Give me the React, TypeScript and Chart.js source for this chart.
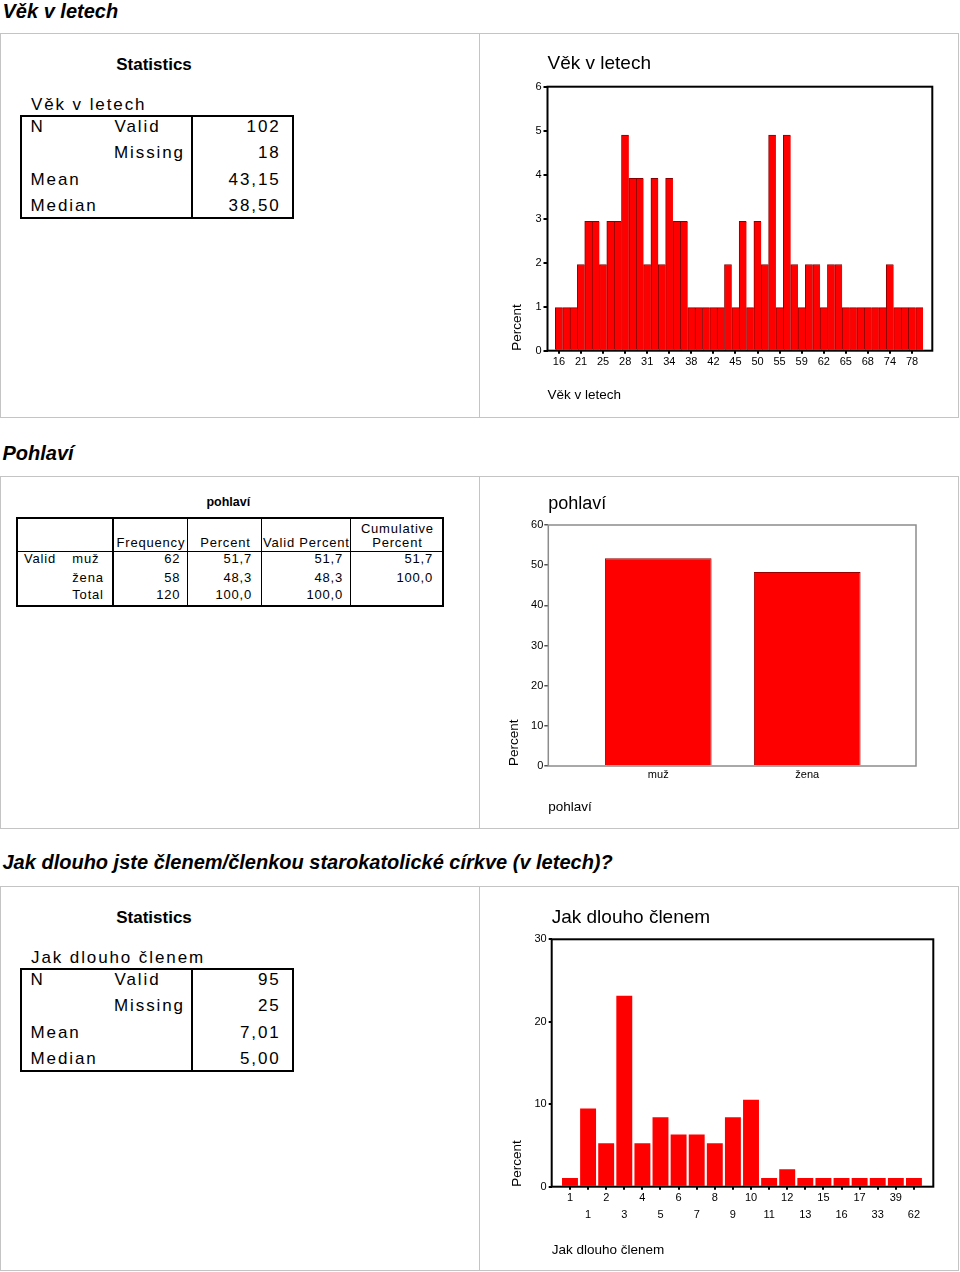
import React, { useEffect, useRef } from "react";
import { Chart, registerables } from "chart.js";

Chart.register(...registerables);

const FONT = "'Liberation Sans', Arial, Helvetica, sans-serif";
Chart.defaults.font.family = FONT;
Chart.defaults.color = "#000";

// ---------------- data ----------------
// Věk v letech (histogram, percent of 102 valid)
const ageLabels = [
  "16", "18", "19", "21", "23", "24", "25", "26", "27", "28",
  "29", "30", "31", "32", "33", "34", "35", "36", "38", "39",
  "40", "42", "43", "44", "45", "47", "48", "50", "52", "53",
  "55", "56", "57", "59", "60", "61", "62", "63", "64", "65",
  "66", "67", "68", "70", "72", "74", "75", "77", "78", "79",
];
const agePercent = [
  0.98, 0.98, 0.98, 1.96, 2.94, 2.94, 1.96, 2.94, 2.94, 4.9,
  3.92, 3.92, 1.96, 3.92, 1.96, 3.92, 2.94, 2.94, 0.98, 0.98,
  0.98, 0.98, 0.98, 1.96, 0.98, 2.94, 0.98, 2.94, 1.96, 4.9,
  0.98, 4.9, 1.96, 0.98, 1.96, 1.96, 0.98, 1.96, 1.96, 0.98,
  0.98, 0.98, 0.98, 0.98, 0.98, 1.96, 0.98, 0.98, 0.98, 0.98,
];
const ageYTicks = [0, 1, 2, 3, 4, 5, 6];

// pohlaví
const genderLabels = ["muž", "žena"];
const genderPercent = [51.7, 48.3];
const genderYTicks = [0, 10, 20, 30, 40, 50, 60];

// Jak dlouho členem (percent of 95 valid)
const memberLabels = [
  "1", "1", "2", "3", "4", "5", "6", "7", "8", "9",
  "10", "11", "12", "13", "15", "16", "17", "33", "39", "62",
];
const memberPercent = [
  1.05, 9.47, 5.26, 23.16, 5.26, 8.42, 6.32, 6.32, 5.26, 8.42,
  10.53, 1.05, 2.11, 1.05, 1.05, 1.05, 1.05, 1.05, 1.05, 1.05,
];
const memberYTicks = [0, 10, 20, 30];

// tables
const statRowLabels = ["Valid", "Missing", "Mean", "Median"];
const ageStatValues = ["102", "18", "43,15", "38,50"];
const memberStatValues = ["95", "25", "7,01", "5,00"];

const genderHeaders = ["Frequency", "Percent", "Valid Percent", "Cumulative Percent"];
const genderRowLabels = ["muž", "žena", "Total"];
const genderFreq = ["62", "58", "120"];
const genderPct = ["51,7", "48,3", "100,0"];
const genderValidPct = ["51,7", "48,3", "100,0"];
const genderCumPct = ["51,7", "100,0", ""];

// ---------------- helpers ----------------
const framePlugin = {
  id: "frame",
  afterDatasetsDraw(chart: any, _args: any, opts: any) {
    const { ctx, chartArea: a } = chart;
    ctx.save();
    ctx.strokeStyle = opts.color || "#000";
    ctx.lineWidth = opts.width || 1;
    ctx.strokeRect(a.left, a.top, a.right - a.left, a.bottom - a.top);
    ctx.restore();
  },
};

function ChartBox({ left, top, width, height, make }: any) {
  const ref = useRef<HTMLCanvasElement>(null);
  useEffect(() => {
    const chart = new Chart(ref.current as HTMLCanvasElement, make());
    return () => chart.destroy();
  }, []);
  return (
    <div style={{ position: "absolute", left, top, width, height }}>
      <canvas ref={ref} width={width} height={height} style={{ display: "block", width, height }} />
    </div>
  );
}

function Txt({ x, y, text, size, bold, italic, ls = 0, align = "left" }: any) {
  const top = y - 0.8465 * size;
  const W = 700;
  let left = x;
  let textAlign: any = "left";
  if (align === "right") {
    left = x + ls - W;
    textAlign = "right";
  } else if (align === "center") {
    left = x - W / 2 + ls / 2;
    textAlign = "center";
  }
  return (
    <div
      style={{
        position: "absolute",
        left,
        top,
        width: align === "left" ? undefined : W,
        whiteSpace: "nowrap",
        fontSize: size,
        lineHeight: `${size}px`,
        fontWeight: bold ? "bold" : "normal",
        fontStyle: italic ? "italic" : "normal",
        letterSpacing: ls,
        textAlign,
        fontFamily: FONT,
        color: "#000",
      }}
    >
      {text}
    </div>
  );
}

function Rect({ x, y, w, h, bg = "#000" }: any) {
  return <div style={{ position: "absolute", left: x, top: y, width: w, height: h, background: bg }} />;
}

function Panel({ top, height }: any) {
  return (
    <>
      <div
        style={{
          position: "absolute",
          left: 0,
          top,
          width: 959,
          height,
          border: "1px solid #c4c4c4",
          boxSizing: "border-box",
        }}
      />
      <Rect x={479} y={top} w={1} h={height} bg="#c4c4c4" />
    </>
  );
}

function StatsTable({ dy, title, values }: any) {
  const rows = [132.5, 158.8, 185.1, 211.4];
  const ls = 1.9;
  return (
    <>
      <Txt x={154} y={70.7 + dy} text="Statistics" size={17} bold align="center" />
      <Txt x={31} y={110 + dy} text={title} size={17} ls={ls} />
      <div
        style={{
          position: "absolute",
          left: 20,
          top: 115 + dy,
          width: 274,
          height: 104,
          border: "2px solid #000",
          boxSizing: "border-box",
        }}
      />
      <Rect x={191.3} y={115 + dy} w={2} h={104} />
      <Txt x={30.5} y={rows[0] + dy} text="N" size={17} ls={ls} />
      <Txt x={114.5} y={rows[0] + dy} text={statRowLabels[0]} size={17} ls={ls} />
      <Txt x={114} y={rows[1] + dy} text={statRowLabels[1]} size={17} ls={ls} />
      <Txt x={30.5} y={rows[2] + dy} text={statRowLabels[2]} size={17} ls={ls} />
      <Txt x={30.5} y={rows[3] + dy} text={statRowLabels[3]} size={17} ls={ls} />
      {values.map((v: string, i: number) => (
        <Txt key={i} x={278.7} y={rows[i] + dy} text={v} size={17} ls={ls} align="right" />
      ))}
    </>
  );
}

function GenderTable() {
  const ls = 0.8;
  const s = 13;
  const rows = [563.4, 581.6, 599.4];
  const colRight = [179.5, 251.2, 342.2, 432.2];
  const cols = [genderFreq, genderPct, genderValidPct, genderCumPct];
  return (
    <>
      <Txt x={228.3} y={506.7} text="pohlaví" size={12.5} bold align="center" />
      <div
        style={{
          position: "absolute",
          left: 16,
          top: 517,
          width: 428,
          height: 90,
          border: "2px solid #000",
          boxSizing: "border-box",
        }}
      />
      <Rect x={112.3} y={517} w={2} h={90} />
      <Rect x={187.2} y={517} w={1} h={90} />
      <Rect x={261.2} y={517} w={1} h={90} />
      <Rect x={350.2} y={517} w={1} h={90} />
      <Rect x={16} y={550.5} w={428} h={1.5} />
      <Txt x={150.5} y={546.7} text={genderHeaders[0]} size={s} ls={ls} align="center" />
      <Txt x={225} y={546.7} text={genderHeaders[1]} size={s} ls={ls} align="center" />
      <Txt x={306} y={546.7} text={genderHeaders[2]} size={s} ls={ls} align="center" />
      <Txt x={397} y={533.3} text="Cumulative" size={s} ls={ls} align="center" />
      <Txt x={397} y={546.7} text="Percent" size={s} ls={ls} align="center" />
      <Txt x={24} y={rows[0]} text="Valid" size={s} ls={ls} />
      {genderRowLabels.map((l, i) => (
        <Txt key={"l" + i} x={72.3} y={rows[i]} text={l} size={s} ls={ls} />
      ))}
      {cols.map((col, c) =>
        col.map((v, i) => (
          <Txt key={c + "-" + i} x={colRight[c]} y={rows[i]} text={v} size={s} ls={ls} align="right" />
        ))
      )}
    </>
  );
}

const axisTitleFont = { size: 13.5, family: FONT };
const tickFont = { size: 11, family: FONT };

function makeAgeChart() {
  return {
    type: "bar",
    data: {
      datasets: [
        {
          data: agePercent.map((v, i) => ({ x: i, y: v })),
          backgroundColor: "#ff0000",
          borderColor: "#8a0000",
          borderWidth: { left: 1, top: 1, right: 0, bottom: 0 },
          borderSkipped: false,
          barPercentage: 1,
          categoryPercentage: 1,
        },
      ],
    },
    options: {
      animation: false,
      responsive: false,
      maintainAspectRatio: false,
      layout: { padding: { left: 0, right: 24.7, top: 0, bottom: 0 } },
      plugins: {
        legend: { display: false },
        tooltip: { enabled: false },
        title: {
          display: true,
          text: "Věk v letech",
          align: "start",
          fullSize: false,
          color: "#000",
          font: { size: 19, weight: "normal", family: FONT },
          padding: { top: 18.7, bottom: 11.2 },
        },
        frame: { color: "#000", width: 2 },
      },
      scales: {
        x: {
          type: "linear",
          min: -1.56,
          max: 50.76,
          offset: false,
          afterBuildTicks: (s: any) => {
            s.ticks = ageLabels.map((_, i) => ({ value: i })).filter((t) => t.value % 3 === 0);
          },
          afterFit: (s: any) => {
            s.height = 66.3;
          },
          ticks: {
            autoSkip: false,
            maxRotation: 0,
            padding: 1.3,
            font: tickFont,
            color: "#000",
            callback: (v: any) => ageLabels[v] ?? "",
          },
          grid: { drawOnChartArea: false, drawTicks: true, tickLength: 3, lineWidth: 2, color: "#000", offset: false },
          border: { display: false },
          title: {
            display: true,
            text: "Věk v letech",
            align: "start",
            color: "#000",
            font: axisTitleFont,
            padding: { top: 0, bottom: 13.8 },
          },
        },
        y: {
          min: 0,
          max: 6,
          afterBuildTicks: (s: any) => {
            s.ticks = ageYTicks.map((v) => ({ value: v }));
          },
          afterFit: (s: any) => {
            s.width = 66.5;
          },
          ticks: { padding: 2, font: tickFont, color: "#000" },
          grid: { drawOnChartArea: false, drawTicks: true, tickLength: 4, lineWidth: 2, color: "#000" },
          border: { display: false },
          title: {
            display: true,
            text: "Percent",
            align: "start",
            color: "#000",
            font: axisTitleFont,
            padding: { top: 28.4, bottom: 0 },
          },
        },
      },
    },
    plugins: [framePlugin],
  } as any;
}

function makeGenderChart() {
  return {
    type: "bar",
    data: {
      datasets: [
        {
          data: genderPercent.map((v, i) => ({ x: i, y: v })),
          backgroundColor: "#ff0000",
          borderColor: "#9a0000",
          borderWidth: 1,
          barPercentage: 0.716,
          categoryPercentage: 1,
        },
      ],
    },
    options: {
      animation: false,
      responsive: false,
      maintainAspectRatio: false,
      layout: { padding: { left: 0, right: 41, top: 0, bottom: 0 } },
      plugins: {
        legend: { display: false },
        tooltip: { enabled: false },
        title: {
          display: true,
          text: "pohlaví",
          align: "start",
          fullSize: false,
          color: "#000",
          font: { size: 18, weight: "normal", family: FONT },
          padding: { top: 16.6, bottom: 9.8 },
        },
        frame: { color: "#8c8c8c", width: 1.5 },
      },
      scales: {
        x: {
          type: "linear",
          min: -0.738,
          max: 1.73,
          offset: false,
          afterBuildTicks: (s: any) => {
            s.ticks = genderLabels.map((_, i) => ({ value: i }));
          },
          afterFit: (s: any) => {
            s.height = 62;
          },
          ticks: {
            autoSkip: false,
            maxRotation: 0,
            padding: 2.5,
            font: tickFont,
            color: "#000",
            callback: (v: any) => genderLabels[v] ?? "",
          },
          grid: { display: false, drawTicks: false, offset: false },
          border: { display: false },
          title: {
            display: true,
            text: "pohlaví",
            align: "start",
            color: "#000",
            font: axisTitleFont,
            padding: { top: 0, bottom: 12.4 },
          },
        },
        y: {
          min: 0,
          max: 60,
          afterBuildTicks: (s: any) => {
            s.ticks = genderYTicks.map((v) => ({ value: v }));
          },
          afterFit: (s: any) => {
            s.width = 67.3;
          },
          ticks: { padding: 1, font: tickFont, color: "#000" },
          grid: { drawOnChartArea: false, drawTicks: true, tickLength: 4, lineWidth: 1.5, color: "#555" },
          border: { display: false },
          title: {
            display: true,
            text: "Percent",
            align: "start",
            color: "#000",
            font: axisTitleFont,
            padding: { top: 24.7, bottom: 0 },
          },
        },
      },
    },
    plugins: [framePlugin],
  } as any;
}

function makeMemberChart() {
  return {
    type: "bar",
    data: {
      datasets: [
        {
          data: memberPercent.map((v, i) => ({ x: i, y: v })),
          backgroundColor: "#ff0000",
          borderWidth: 0,
          barPercentage: 0.88,
          categoryPercentage: 1,
        },
      ],
    },
    options: {
      animation: false,
      responsive: false,
      maintainAspectRatio: false,
      layout: { padding: { left: 0, right: 23.7, top: 0, bottom: 0 } },
      plugins: {
        legend: { display: false },
        tooltip: { enabled: false },
        title: {
          display: true,
          text: "Jak dlouho členem",
          align: "start",
          fullSize: false,
          color: "#000",
          font: { size: 19, weight: "normal", family: FONT },
          padding: { top: 19, bottom: 10.5 },
        },
        frame: { color: "#000", width: 2 },
      },
      scales: {
        x: {
          type: "linear",
          min: -1.01,
          max: 20.07,
          offset: false,
          afterBuildTicks: (s: any) => {
            s.ticks = memberLabels.map((_, i) => ({ value: i }));
          },
          afterFit: (s: any) => {
            s.height = 83.3;
          },
          ticks: {
            autoSkip: false,
            maxRotation: 0,
            padding: -1,
            font: { size: 11, family: FONT, lineHeight: 1.6 },
            color: "#000",
            callback: (v: any) => {
              const l = memberLabels[v] ?? "";
              return v % 2 === 0 ? [l, ""] : ["", l];
            },
          },
          grid: { drawOnChartArea: false, drawTicks: true, tickLength: 3, lineWidth: 2, color: "#000", offset: false },
          border: { display: false },
          title: {
            display: true,
            text: "Jak dlouho členem",
            align: "start",
            color: "#000",
            font: axisTitleFont,
            padding: { top: 0, bottom: 12.1 },
          },
        },
        y: {
          min: 0,
          max: 30,
          afterBuildTicks: (s: any) => {
            s.ticks = memberYTicks.map((v) => ({ value: v }));
          },
          afterFit: (s: any) => {
            s.width = 70.7;
          },
          ticks: { padding: 2, font: tickFont, color: "#000" },
          grid: { drawOnChartArea: false, drawTicks: true, tickLength: 3, lineWidth: 2, color: "#000" },
          border: { display: false },
          title: {
            display: true,
            text: "Percent",
            align: "start",
            color: "#000",
            font: axisTitleFont,
            padding: { top: 28.4, bottom: 0 },
          },
        },
      },
    },
    plugins: [framePlugin],
  } as any;
}

export default function App() {
  return (
    <div
      style={{
        position: "absolute",
        left: 0,
        top: 0,
        width: 960,
        height: 1272,
        background: "#fff",
        fontFamily: FONT,
        overflow: "hidden",
      }}
    >
      {/* Section 1 */}
      <Txt x={2.5} y={18} text="Věk v letech" size={20} bold italic />
      <Panel top={33} height={385} />
      <StatsTable dy={0} title="Věk v letech" values={ageStatValues} />
      <ChartBox left={481} top={34} width={476} height={383} make={makeAgeChart} />

      {/* Section 2 */}
      <Txt x={2.5} y={460} text="Pohlaví" size={20} bold italic />
      <Panel top={476} height={353} />
      <GenderTable />
      <ChartBox left={481} top={477} width={476} height={351} make={makeGenderChart} />

      {/* Section 3 */}
      <Txt
        x={2.5}
        y={869}
        text="Jak dlouho jste členem/členkou starokatolické církve (v letech)?"
        size={20}
        bold
        italic
      />
      <Panel top={886} height={385} />
      <StatsTable dy={853} title="Jak dlouho členem" values={memberStatValues} />
      <ChartBox left={481} top={887} width={476} height={383} make={makeMemberChart} />
    </div>
  );
}
